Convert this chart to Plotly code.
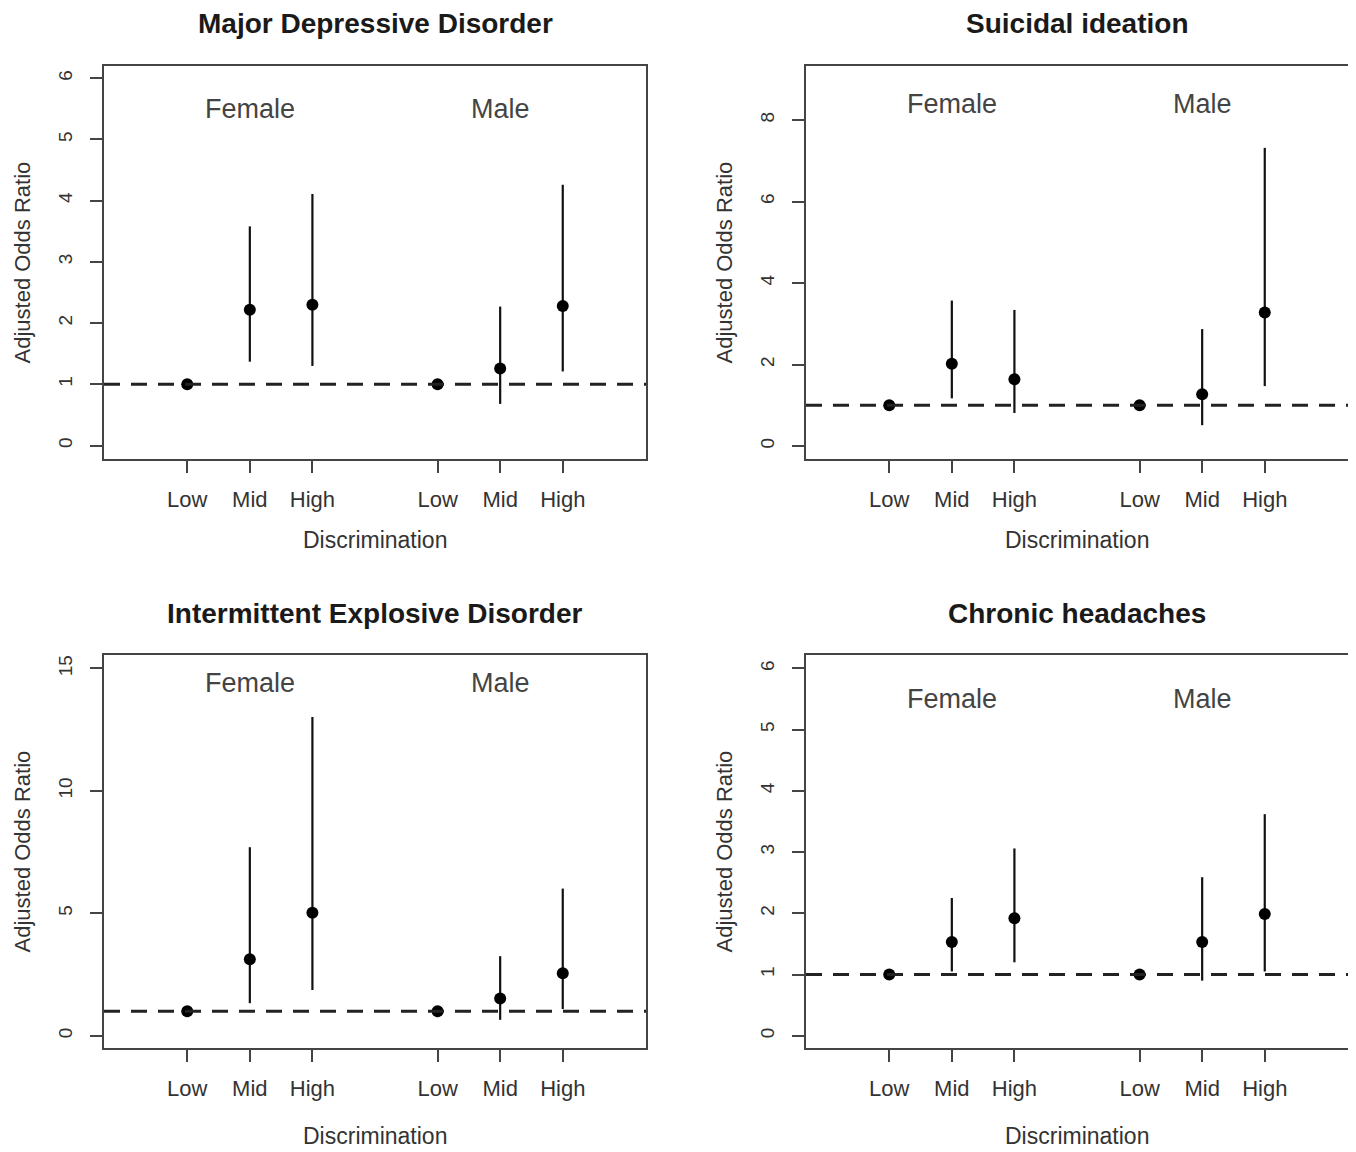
import plotly.graph_objects as go

# ---------------- data ----------------
titles = ["Major Depressive Disorder", "Suicidal ideation",
          "Intermittent Explosive Disorder", "Chronic headaches"]
x_pos = [1, 2, 3, 5, 6, 7]
tick_text = ["Low", "Mid", "High", "Low", "Mid", "High"]
groups = ["Female", "Male"]
group_x = [2, 6]

mdd_or = [1.00, 2.22, 2.30, 1.00, 1.26, 2.28]
mdd_lo = [1.00, 1.37, 1.30, 1.00, 0.68, 1.21]
mdd_hi = [1.00, 3.58, 4.11, 1.00, 2.27, 4.26]

si_or = [1.00, 2.02, 1.64, 1.00, 1.27, 3.28]
si_lo = [1.00, 1.17, 0.81, 1.00, 0.51, 1.47]
si_hi = [1.00, 3.57, 3.34, 1.00, 2.87, 7.32]

ied_or = [1.00, 3.12, 5.02, 1.00, 1.52, 2.55]
ied_lo = [1.00, 1.33, 1.87, 1.00, 0.65, 1.09]
ied_hi = [1.00, 7.70, 13.02, 1.00, 3.25, 6.01]

ch_or = [1.00, 1.53, 1.92, 1.00, 1.53, 1.99]
ch_lo = [1.00, 1.05, 1.20, 1.00, 0.90, 1.05]
ch_hi = [1.00, 2.25, 3.06, 1.00, 2.59, 3.62]

y_ticks = [[0, 1, 2, 3, 4, 5, 6], [0, 2, 4, 6, 8], [0, 5, 10, 15], [0, 1, 2, 3, 4, 5, 6]]
y_ranges = [[-0.22, 6.2], [-0.32, 9.33], [-0.5, 15.55], [-0.2, 6.22]]
label_y = [5.5, 8.4, 14.4, 5.5]
ref_line = 1

series = [(mdd_or, mdd_lo, mdd_hi), (si_or, si_lo, si_hi),
          (ied_or, ied_lo, ied_hi), (ch_or, ch_lo, ch_hi)]

# ---------------- layout geometry ----------------
# page body has an 8px margin, so the figure is 8px smaller and offset
OFF = 8
W, H = 1356 - OFF, 1152 - OFF


def px(X):
    return (X - OFF) / W


def py(Y):
    return 1 - (Y - OFF) / H


col_dom = [[px(104), px(646)], [px(806), px(1348)]]
row_dom = [[py(459), py(66)], [py(1048), py(655)]]
title_y = [py(24), py(613)]
xlab_y = [py(540), py(1136)]
ylab_x = [px(22), px(724)]

FONT = "Liberation Sans, Arial, sans-serif"
TXT = "#333333"

fig = go.Figure()
annotations = []
shapes = []

for i in range(4):
    r, c = divmod(i, 2)
    sfx = "" if i == 0 else str(i + 1)
    xa, ya = "x" + sfx, "y" + sfx
    orv, lo, hi = series[i]
    plus = [h - o for h, o in zip(hi, orv)]
    minus = [o - l for o, l in zip(orv, lo)]
    fig.add_trace(go.Scatter(
        x=x_pos, y=orv, mode="markers", xaxis=xa, yaxis=ya,
        marker=dict(size=12, color="black"),
        error_y=dict(type="data", symmetric=False, array=plus, arrayminus=minus,
                     width=0, thickness=2.2, color="#111111"),
        showlegend=False, hoverinfo="x+y"))

    common = dict(showline=True, linecolor="#444444", linewidth=2, mirror=True,
                  ticks="outside", ticklen=12, tickwidth=1.5, tickcolor="#444444",
                  showgrid=False, zeroline=False, fixedrange=True)
    fig.update_layout(**{
        "xaxis" + sfx: dict(domain=col_dom[c], anchor=ya, range=[-0.33, 8.33],
                            tickmode="array", tickvals=x_pos, ticktext=tick_text,
                            tickfont=dict(family=FONT, size=22, color=TXT),
                            ticklabelstandoff=8, **common),
        "yaxis" + sfx: dict(domain=row_dom[r], anchor=xa, range=y_ranges[i],
                            tickmode="array", tickvals=y_ticks[i],
                            tickfont=dict(family=FONT, size=19, color=TXT),
                            tickangle=-90, ticklabelstandoff=10, **common),
    })

    shapes.append(dict(type="line", xref=xa + " domain", yref=ya,
                       x0=0, x1=1, y0=ref_line, y1=ref_line,
                       line=dict(color="#222222", width=3, dash="16px,11px")))

    cx = (col_dom[c][0] + col_dom[c][1]) / 2
    cy = (row_dom[r][0] + row_dom[r][1]) / 2
    annotations.append(dict(text="<b>" + titles[i] + "</b>", xref="paper", yref="paper",
                            x=cx, y=title_y[r], xanchor="center", yanchor="middle",
                            showarrow=False, font=dict(family=FONT, size=28, color="#1a1a1a")))
    annotations.append(dict(text="Discrimination", xref="paper", yref="paper",
                            x=cx, y=xlab_y[r], xanchor="center", yanchor="middle",
                            showarrow=False, font=dict(family=FONT, size=23, color=TXT)))
    annotations.append(dict(text="Adjusted Odds Ratio", xref="paper", yref="paper",
                            x=ylab_x[c], y=cy, xanchor="center", yanchor="middle",
                            textangle=-90, showarrow=False,
                            font=dict(family=FONT, size=22, color=TXT)))
    for g, gx in zip(groups, group_x):
        annotations.append(dict(text=g, xref=xa, yref=ya, x=gx, y=label_y[i],
                                xanchor="center", yanchor="middle", showarrow=False,
                                font=dict(family=FONT, size=27, color="#444444")))

fig.update_layout(width=W, height=H, autosize=False,
                  margin=dict(l=0, r=0, t=0, b=0),
                  paper_bgcolor="white", plot_bgcolor="white",
                  annotations=annotations, shapes=shapes, showlegend=False)

fig.write_html("out.html")
